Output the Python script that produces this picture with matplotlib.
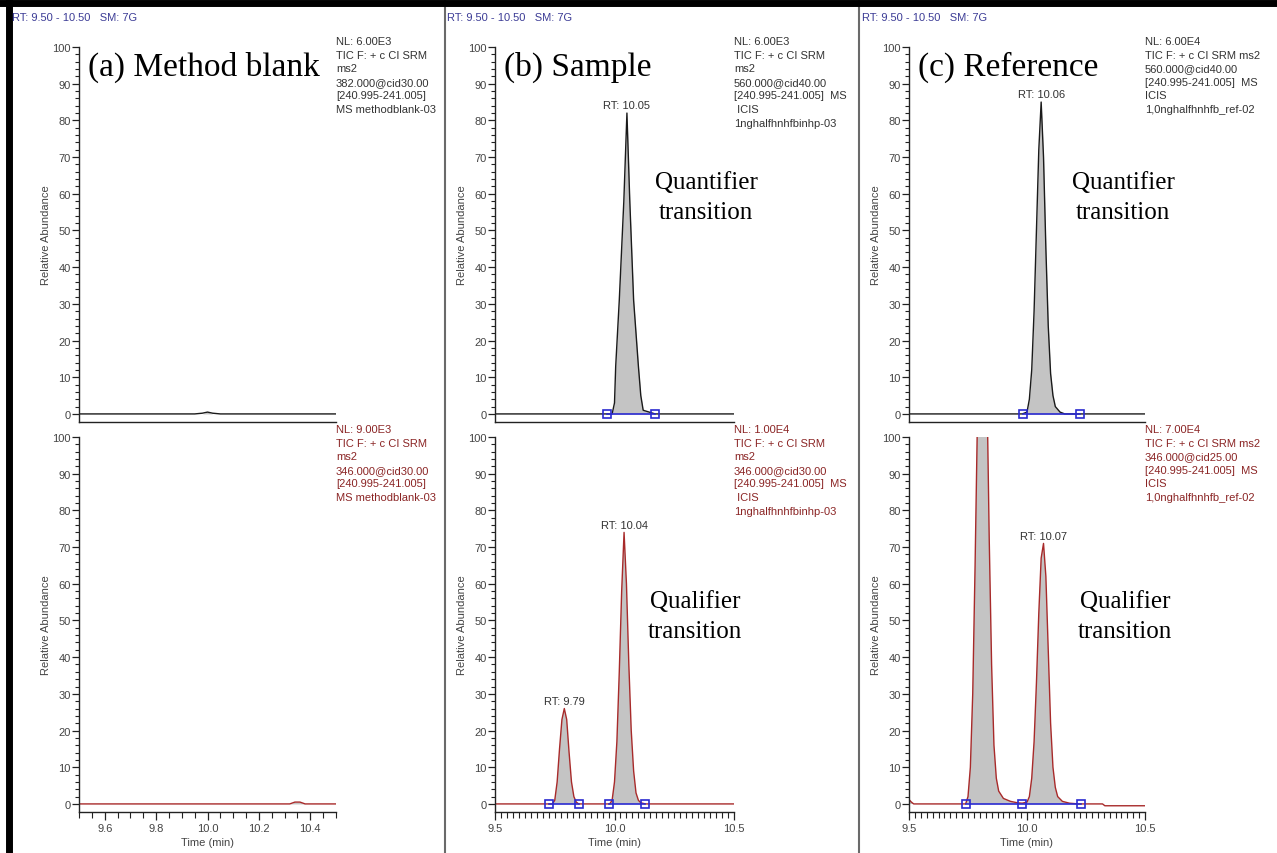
import matplotlib
matplotlib.use("Agg")
import matplotlib.pyplot as plt
from matplotlib.ticker import MultipleLocator, FixedLocator
from matplotlib.lines import Line2D
import numpy as np

W, H = 1277, 854
SANS = "Liberation Sans"
SERIF = "Liberation Serif"

# ---- data (time in min, relative abundance in %)
blank_quant_t = [9.50, 9.95, 9.98, 10.00, 10.02, 10.05, 10.50]
blank_quant_y = [0, 0, 0.2, 0.5, 0.2, 0, 0]
blank_qual_t = [9.50, 10.32, 10.34, 10.36, 10.38, 10.50]
blank_qual_y = [0, 0, 0.5, 0.5, 0, 0]

sample_quant_t = [9.50, 9.97, 9.99, 10.00, 10.005, 10.02, 10.039, 10.052,
                  10.064, 10.08, 10.10, 10.11, 10.12, 10.17, 10.50]
sample_quant_y = [0, 0, 0, 3, 13, 31, 58, 82, 58, 31, 13, 5, 1, 0, 0]
sample_qual_t = [9.50, 9.74, 9.75, 9.76, 9.77, 9.78, 9.79, 9.80, 9.81, 9.82,
                 9.83, 9.84, 9.85, 9.98, 9.99, 10.00, 10.01, 10.02, 10.03,
                 10.04, 10.05, 10.06, 10.07, 10.08, 10.09, 10.10, 10.11,
                 10.13, 10.50]
sample_qual_y = [0, 0, 1, 6, 15, 23, 26, 23, 14, 6, 2, 0.5, 0, 0, 1, 6, 17,
                 36, 58, 74, 60, 38, 20, 9, 3, 1, 0.3, 0, 0]

ref_quant_t = [9.50, 9.98, 10.00, 10.01, 10.02, 10.03, 10.04, 10.05, 10.06,
               10.07, 10.08, 10.09, 10.10, 10.11, 10.12, 10.14, 10.16, 10.50]
ref_quant_y = [0, 0, 0.5, 4, 12, 28, 50, 72, 85, 70, 45, 24, 11, 5, 2, 0.5,
               0, 0]
ref_qual_t = [9.50, 9.51, 9.52, 9.74, 9.75, 9.76, 9.77, 9.78, 9.79, 9.80,
              9.81, 9.82, 9.83, 9.84, 9.85, 9.86, 9.87, 9.88, 9.90, 9.93,
              9.96, 9.98, 10.00, 10.01, 10.02, 10.03, 10.04, 10.05, 10.06,
              10.07, 10.08, 10.09, 10.10, 10.11, 10.12, 10.13, 10.15, 10.18,
              10.22, 10.32, 10.33, 10.50]
ref_qual_y = [1.2, 0.5, 0, 0, 2, 10, 30, 65, 105, 142, 160, 150, 115, 72,
              38, 16, 7, 3.5, 1.5, 0.7, 0.3, 0.2, 0.5, 2, 7, 17, 33, 52, 67,
              71, 62, 42, 22, 10, 4.5, 2, 0.7, 0.2, 0, 0, -0.5, -0.5]

# integration baselines (peak start / end times)
sample_quant_base = [[9.97, 10.17]]
sample_qual_base = [[9.727, 9.853], [9.975, 10.126]]
ref_quant_base = [[9.983, 10.225]]
ref_qual_base = [[9.74, 9.98, 10.23]]

# RT labels: (time, label)
sample_quant_rt = [(10.052, "RT: 10.05")]
sample_qual_rt = [(9.79, "RT: 9.79"), (10.04, "RT: 10.04")]
ref_quant_rt = [(10.06, "RT: 10.06")]
ref_qual_rt = [(10.07, "RT: 10.07")]

titles = ["(a) Method blank", "(b) Sample", "(c) Reference"]

info_top = [
    ["NL: 6.00E3", "TIC F: + c CI SRM", "ms2", "382.000@cid30.00",
     "[240.995-241.005]", "MS methodblank-03"],
    ["NL: 6.00E3", "TIC F: + c CI SRM", "ms2", "560.000@cid40.00",
     "[240.995-241.005]  MS", " ICIS", "1nghalfhnhfbinhp-03"],
    ["NL: 6.00E4", "TIC F: + c CI SRM ms2", "560.000@cid40.00",
     "[240.995-241.005]  MS", "ICIS", "1,0nghalfhnhfb_ref-02"],
]
info_bot = [
    ["NL: 9.00E3", "TIC F: + c CI SRM", "ms2", "346.000@cid30.00",
     "[240.995-241.005]", "MS methodblank-03"],
    ["NL: 1.00E4", "TIC F: + c CI SRM", "ms2", "346.000@cid30.00",
     "[240.995-241.005]  MS", " ICIS", "1nghalfhnhfbinhp-03"],
    ["NL: 7.00E4", "TIC F: + c CI SRM ms2", "346.000@cid25.00",
     "[240.995-241.005]  MS", "ICIS", "1,0nghalfhnhfb_ref-02"],
]

# pixel layout of the three columns: (axis left, axis right, header x)
cols = [(79, 336, 12), (495, 734, 447), (909, 1145, 862)]
TOP_AX = (48, 423)
BOT_AX = (438, 813)

fig = plt.figure(figsize=(W / 100, H / 100), dpi=100)
fig.patch.set_facecolor("white")


def add_ax(left, right, top, bottom):
    return fig.add_axes([left / W, 1 - bottom / H, (right - left) / W,
                         (bottom - top) / H])


def style_axes(ax, col, show_x):
    left, right, _ = cols[col]
    ax.set_xlim(9.5, 10.5)
    ax.set_ylim(-2.2, 100)
    for s in ["top", "right"]:
        ax.spines[s].set_visible(False)
    for s in ["left", "bottom"]:
        ax.spines[s].set_color("#222222")
        ax.spines[s].set_linewidth(1.0)
    ax.yaxis.set_major_locator(FixedLocator(np.arange(0, 101, 10)))
    ax.yaxis.set_minor_locator(FixedLocator(np.arange(0, 101, 2)))
    ax.tick_params(axis="y", which="major", length=5, width=0.9,
                   labelsize=8, colors="#222222", labelcolor="#444444", pad=1)
    ax.tick_params(axis="y", which="minor", length=3, width=0.8,
                   colors="#222222")
    for lab in ax.get_yticklabels():
        lab.set_family(SANS)
    ax.set_ylabel("Relative Abundance", fontsize=8, family=SANS,
                  color="#444444")
    ax.yaxis.set_label_coords(-28 / (right - left), 0.5)
    if show_x:
        if col == 0:
            ax.set_xticks([9.6, 9.8, 10.0, 10.2, 10.4])
            ax.set_xticklabels(["9.6", "9.8", "10.0", "10.2", "10.4"])
            ax.xaxis.set_minor_locator(MultipleLocator(0.05))
        else:
            ax.set_xticks([9.5, 10.0, 10.5])
            ax.set_xticklabels(["9.5", "10.0", "10.5"])
            ax.xaxis.set_minor_locator(MultipleLocator(0.025))
        ax.tick_params(axis="x", which="major", length=6, width=0.9,
                       labelsize=8, colors="#222222", labelcolor="#444444",
                       pad=2)
        ax.tick_params(axis="x", which="minor", length=4, width=0.8,
                       colors="#222222")
        for lab in ax.get_xticklabels():
            lab.set_family(SANS)
        ax.set_xlabel("Time (min)", fontsize=8, family=SANS, color="#444444",
                      labelpad=3)
    else:
        ax.set_xticks([])
        ax.xaxis.set_minor_locator(FixedLocator([]))


def draw_trace(ax, t, y, line_color, bases, rts):
    t = np.asarray(t, dtype=float)
    y = np.asarray(y, dtype=float)
    ax.fill_between(t, 0, y, where=y > 0.3, color="#c4c4c4", linewidth=0,
                    interpolate=True)
    ax.plot(t, y, color=line_color, linewidth=1.0)
    for b in bases:
        ax.plot(b, [0] * len(b), color="#2a2ad0", linewidth=1.2)
        ax.plot(b, [0] * len(b), linestyle="none", marker="s", markersize=6,
                markerfacecolor="none", markeredgecolor="#2a2ad0",
                markeredgewidth=1.2, clip_on=False)
    for rt, lab in rts:
        yy = np.interp(rt, t, y)
        ax.annotate(lab, (rt, yy), xytext=(0, 2), textcoords="offset points",
                    ha="center", va="bottom", fontsize=8, family=SANS,
                    color="#333333")


traces_top = [(blank_quant_t, blank_quant_y, [], []),
              (sample_quant_t, sample_quant_y, sample_quant_base,
               sample_quant_rt),
              (ref_quant_t, ref_quant_y, ref_quant_base, ref_quant_rt)]
traces_bot = [(blank_qual_t, blank_qual_y, [], []),
              (sample_qual_t, sample_qual_y, sample_qual_base,
               sample_qual_rt),
              (ref_qual_t, ref_qual_y, ref_qual_base, ref_qual_rt)]

for i, (left, right, hx) in enumerate(cols):
    ax_t = add_ax(left, right, *TOP_AX)
    style_axes(ax_t, i, False)
    draw_trace(ax_t, *traces_top[i][:2], "#1a1a1a", *traces_top[i][2:])
    ax_b = add_ax(left, right, *BOT_AX)
    style_axes(ax_b, i, True)
    draw_trace(ax_b, *traces_bot[i][:2], "#a82a2a", *traces_bot[i][2:])

    # header
    fig.text(hx / W, 1 - 18 / H, "RT: 9.50 - 10.50   SM: 7G", fontsize=8,
             family=SANS, color="#3c3c96", va="center", ha="left")
    # panel title
    fig.text((left + 9) / W, 1 - 67 / H, titles[i], fontsize=24,
             family=SERIF, color="black", va="center", ha="left")
    # trace info blocks
    fig.text(right / W, 1 - 37 / H, "\n".join(info_top[i]), fontsize=8,
             family=SANS, color="#333333", va="top", ha="left",
             linespacing=1.45)
    fig.text(right / W, 1 - 425 / H, "\n".join(info_bot[i]), fontsize=8,
             family=SANS, color="#8b2525", va="top", ha="left",
             linespacing=1.45)

# transition labels
for cx in (706, 1123):
    fig.text(cx / W, 1 - 198 / H, "Quantifier\ntransition", fontsize=18,
             family=SERIF, ha="center", va="center", linespacing=1.45)
for cx in (695, 1125):
    fig.text(cx / W, 1 - 617 / H, "Qualifier\ntransition", fontsize=18,
             family=SERIF, ha="center", va="center", linespacing=1.45)

# column dividers and outer frame
for x in (445, 859):
    fig.add_artist(Line2D([x / W, x / W], [0, 1], color="#6a6a6a",
                          linewidth=1.5))
fig.add_artist(Line2D([0, 1], [1 - 4 / H, 1 - 4 / H], color="black",
                      linewidth=5))
fig.add_artist(Line2D([9 / W, 9 / W], [0, 1], color="black", linewidth=5))

fig.savefig("out.png", dpi=100)
